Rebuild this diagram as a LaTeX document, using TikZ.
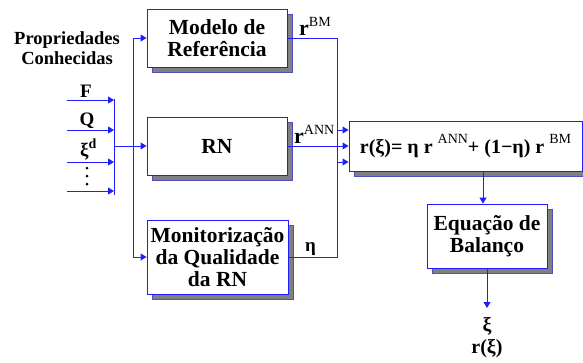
\documentclass[tikz,border=0pt]{standalone}
\usepackage{fontspec}
\setmainfont{Liberation Serif}
\usetikzlibrary{arrows.meta,shadows}
\definecolor{ln}{RGB}{30,30,255}
\definecolor{sh}{RGB}{128,128,128}
\newcommand{\supr}[2][10pt]{\raisebox{#1}{\fontsize{14}{14}\selectfont\mdseries #2}}
\begin{document}
\begin{tikzpicture}[x=1pt,y=-1pt,
  line/.style={draw=ln,line width=0.9pt},
  arr/.style={line,-{Triangle[length=6pt,width=7pt]}},
  box/.style={draw=ln,line width=0.9pt,fill=white,align=center,inner sep=0pt,
     font=\fontsize{21.5}{22}\selectfont\bfseries,
     general shadow={fill=sh,draw=ln!50!sh,line width=0.6pt,shadow xshift=5pt,shadow yshift=-5pt}},
  lbl/.style={inner sep=0pt,font=\fontsize{19}{20}\selectfont\bfseries}]
\useasboundingbox (0,0) rectangle (583,362);

% boxes
\node[box,minimum width=140pt,minimum height=58pt] (mod) at (217,38) {Modelo de\\Referência};
\node[box,minimum width=140pt,minimum height=58pt] (rn) at (217,146) {RN};
\node[box,minimum width=141pt,minimum height=74pt] (mon) at (217.5,257) {Monitorização\\da Qualidade\\da RN};
\node[box,minimum width=233pt,minimum height=50pt,font=\fontsize{20}{20}\selectfont\bfseries] (comb) at (465.5,146)
  {r(ξ)= η r \supr{ANN}+ (1−η) r \supr{BM}};
\node[box,minimum width=120pt,minimum height=64pt] (eq) at (487,236) {Equação de\\Balanço};

% left text
\node[lbl,align=center,font=\fontsize{18.5}{19.5}\selectfont\bfseries] (prop) at (67,48) {Propriedades\\Conhecidas};

% inputs
\coordinate (bt) at (114,99);
\coordinate (bb) at (114,195);
\draw[line] (bt) -- (bb);
\coordinate (f0) at (67,100);
\coordinate (q0) at (67,130);
\coordinate (x0) at (67,162);
\coordinate (e0) at (67,191);
\draw[arr] (f0) -- (f0 -| bt);
\draw[arr] (q0) -- (q0 -| bt);
\draw[arr] (x0) -- (x0 -| bt);
\draw[arr] (e0) -- (e0 -| bt);
\node[lbl,anchor=base] (lf) at (86,97) {F};
\node[lbl,anchor=base] (lq) at (87,125) {Q};
\node[lbl,anchor=base west] (lx) at (80,156) {ξ\raisebox{8pt}{\fontsize{14}{14}\selectfont d}};
\fill[black] (87,168) circle (1.5) (87,176) circle (1.5) (87,184) circle (1.5);

% splitting to the three boxes
\coordinate (b1) at (114,146);
\coordinate (j) at (133,146);
\draw[arr] (b1) -- (rn.west);
\draw[arr] (j) |- (mod.west);
\draw[arr] (j) |- (mon.west);

% right collection
\coordinate (c1) at (337,130);
\coordinate (c3) at (337,162);
\draw[line] (mod.east) -| (c1);
\draw[line] (mon.east) -| (c3);
\draw[line] (c1) -- (c3);
\draw[arr] (c1) -- (c1 -| comb.west);
\draw[arr] (rn.east) -- (comb.west);
\draw[arr] (c3) -- (c3 -| comb.west);

\node[lbl,anchor=base west,font=\fontsize{22}{22}\selectfont\bfseries] (rbm) at (299,35) {r\supr[9pt]{BM}};
\node[lbl,anchor=base west,font=\fontsize{22}{22}\selectfont\bfseries] (rann) at (294,143) {r\supr[9pt]{ANN}};
\node[lbl,anchor=base west] (eta) at (305,251) {η};

% to balance eq. and output
\coordinate (d0) at (483,171);
\draw[arr] (d0) -- (d0 |- eq.north);
\coordinate (out) at (487,308);
\draw[arr] (eq.south) -- (out);
\node[lbl,font=\fontsize{20}{20}\selectfont\bfseries] (xi) at (487,326) {ξ};
\node[lbl,font=\fontsize{20}{20}\selectfont\bfseries] (rxi) at (487,349) {r(ξ)};
\end{tikzpicture}
\end{document}
